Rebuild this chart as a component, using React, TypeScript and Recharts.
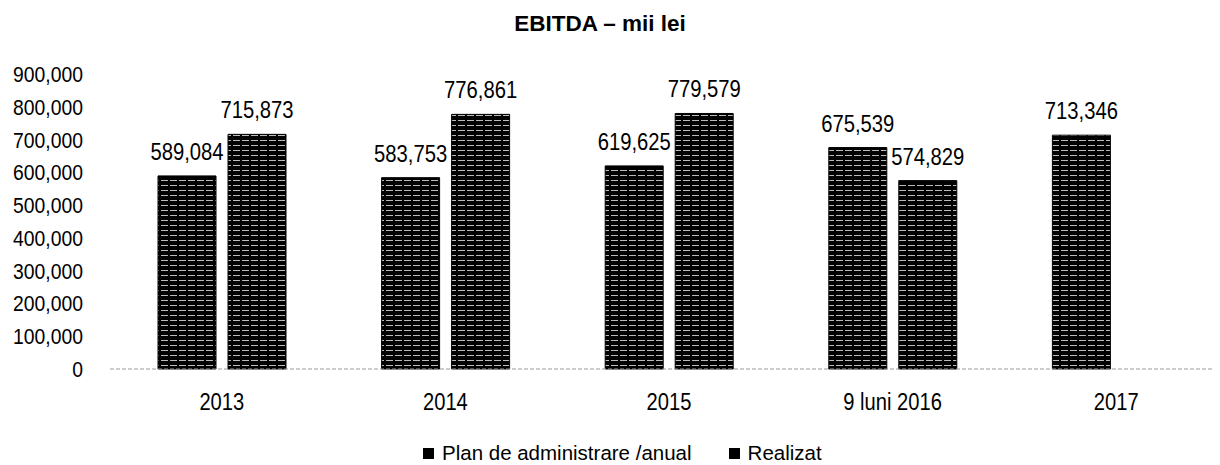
import React from "react";
import { BarChart, Bar, XAxis, YAxis, LabelList } from "recharts";

const categories = ["2013", "2014", "2015", "9 luni 2016", "2017"];
const planValues = [589084, 583753, 619625, 675539, 713346];
const realizatValues: (number | null)[] = [715873, 776861, 779579, 574829, null];
const yTicks = [0, 100000, 200000, 300000, 400000, 500000, 600000, 700000, 800000, 900000];
const seriesNames = ["Plan de administrare /anual", "Realizat"];

const data = categories.map((c, i) => ({
  name: c,
  plan: planValues[i],
  realizat: realizatValues[i],
}));

const FONT = "'Liberation Sans', Arial, sans-serif";
const fmt = (v: any) => (v == null ? "" : Number(v).toLocaleString("en-US"));

const YTick = (props: any) => {
  const { x, y, payload } = props;
  return (
    <g transform={`translate(${x},${y}) scale(0.86,1)`}>
      <text x={0} y={0} dy="0.355em" textAnchor="end" fill="#000" fontSize={22.5} fontFamily={FONT}>
        {fmt(payload.value)}
      </text>
    </g>
  );
};

const XTick = (props: any) => {
  const { x, y, payload } = props;
  return (
    <g transform={`translate(${x},${y}) scale(0.84,1)`}>
      <text x={0} y={41} textAnchor="middle" fill="#000" fontSize={24} fontFamily={FONT}>
        {payload.value}
      </text>
    </g>
  );
};

const BarLabel = (props: any) => {
  const { x, y, width, value } = props;
  if (value == null) return null;
  return (
    <g transform={`translate(${Number(x) + Number(width) / 2},${Number(y) - 16}) scale(0.88,1)`}>
      <text x={0} y={0} textAnchor="middle" fill="#000" fontSize={23} fontFamily={FONT}>
        {fmt(value)}
      </text>
    </g>
  );
};

export default function App() {
  return (
    <div style={{ position: "relative", width: 1212, height: 457, overflow: "hidden", fontFamily: FONT }}>
      <div
        style={{
          position: "absolute",
          top: 3,
          left: 492,
          width: 200,
          textAlign: "center",
          fontWeight: "bold",
          fontSize: 22.5,
          lineHeight: "26px",
          color: "#000",
          whiteSpace: "nowrap",
        }}
      >
        EBITDA – mii lei
      </div>
      <BarChart
        width={1220}
        height={450}
        data={data}
        margin={{ top: 66, right: 0, bottom: 49, left: 0 }}
        barSize={58}
        barGap={12}
      >
        <defs>
          <pattern id="scan" patternUnits="userSpaceOnUse" width="9" height="5">
            <rect x="0" y="0" width="9" height="5" fill="#000" />
            <rect x="0" y="2" width="7" height="1" fill="#bbb" />
          </pattern>
        </defs>
        <XAxis
          dataKey="name"
          height={40}
          tickLine={false}
          tickSize={0}
          tickMargin={0}
          axisLine={{ stroke: "#9a9a9a", strokeDasharray: "4 2" }}
          tick={<XTick />}
          interval={0}
        />
        <YAxis
          width={102}
          domain={[0, 900000]}
          ticks={yTicks}
          axisLine={false}
          tickLine={false}
          tickSize={0}
          tickMargin={27}
          tick={<YTick />}
          interval={0}
        />
        <Bar dataKey="plan" name={seriesNames[0]} fill="url(#scan)" stroke="#000" strokeWidth={1} isAnimationActive={false}>
          <LabelList dataKey="plan" content={<BarLabel />} />
        </Bar>
        <Bar dataKey="realizat" name={seriesNames[1]} fill="url(#scan)" stroke="#000" strokeWidth={1} isAnimationActive={false}>
          <LabelList dataKey="realizat" content={<BarLabel />} />
        </Bar>
      </BarChart>
      <div
        style={{
          position: "absolute",
          top: 433,
          left: 415,
          display: "flex",
          alignItems: "center",
          fontSize: 20.5,
          lineHeight: "24px",
          color: "#000",
          whiteSpace: "nowrap",
        }}
      >
        {seriesNames.map((n, i) => (
          <div key={n} style={{ display: "flex", alignItems: "center", marginRight: i === 0 ? 37 : 0 }}>
            <span style={{ width: 11, height: 11, background: "#000", display: "inline-block", marginRight: 8 }} />
            <span>{n}</span>
          </div>
        ))}
      </div>
    </div>
  );
}
